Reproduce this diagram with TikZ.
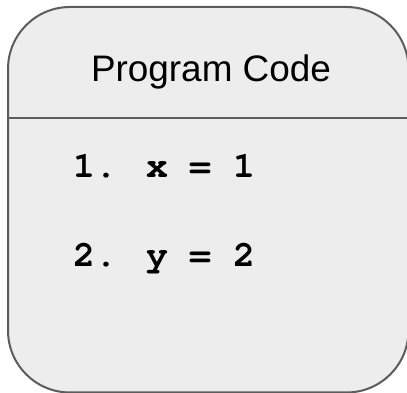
\documentclass[tikz,border=0pt]{standalone}
\usepackage{fontspec}
\setmainfont{Liberation Sans}
\newfontfamily\codefont{TeX Gyre Cursor}
\begin{document}
\begin{tikzpicture}[x=1pt,y=1pt,
  panel/.style={draw=black!64, line width=2pt, fill=black!7, rectangle,
    rounded corners=62pt, minimum width=400.5pt, minimum height=385.5pt,
    inner sep=0pt, outer sep=0pt},
  divider/.style={draw=black!64, line width=2pt},
  heading/.style={font=\fontsize{36.9}{40}\selectfont, text=black, inner sep=0pt, anchor=base},
  codeline/.style={font=\codefont\bfseries\fontsize{36.5}{40}\selectfont, text=black, inner sep=0pt, anchor=base west}]
  \useasboundingbox (0,0) rectangle (407,393);
  % card outline
  \node[panel] (box) at (208.25,193.25) {};
  % header separator
  \coordinate (sepL) at (box.west |- 0,275.3);
  \coordinate (sepR) at (box.east |- 0,275.3);
  \draw[divider] (sepL) -- (sepR);
  % header and code lines
  \node[heading] (title) at (211,311.3) {Program Code};
  \node[codeline] (line1) at (73,215.3) {1. x = 1};
  \node[codeline] (line2) at (73,126.3) {2. y = 2};
\end{tikzpicture}
\end{document}
